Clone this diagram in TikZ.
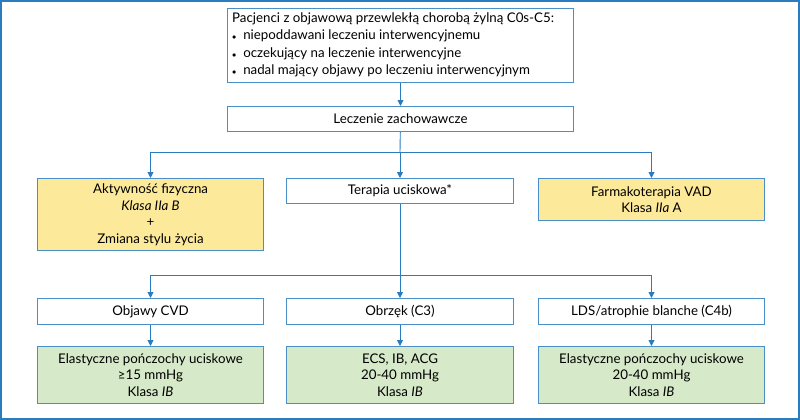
\documentclass[tikz,border=0pt]{standalone}
\usepackage{fontspec}
\setmainfont{Lato}
\usetikzlibrary{arrows.meta}
\definecolor{bl}{HTML}{2B7BBF}
\definecolor{bx}{HTML}{4A8FC8}
\definecolor{ye}{HTML}{FDE99A}
\definecolor{gr}{HTML}{D6E9C8}
\begin{document}
\begin{tikzpicture}[x=1pt,y=-1pt,
 box/.style={draw=bx,line width=1pt,inner sep=0pt,align=center,font=\fontsize{13.3}{16.5}\selectfont},
 arr/.style={draw=bl,line width=0.9pt,-{Triangle[length=6pt,width=6pt]}},
 ln/.style={draw=bl,line width=0.9pt}]
\draw[bl,line width=1.2pt] (1,1) rectangle (799,419);
\useasboundingbox (0,0) rectangle (800,420);
\newcommand\bx[6]{\node[box,fill=#6,minimum width=#3-#2,minimum height=#5-#4,anchor=north west] (#1) at (#2,#4) {};}
\bx{top}{227}{573}{8}{82}{white}
\node[anchor=west,align=left,inner sep=0pt,font=\fontsize{13.3}{17.5}\selectfont] at (232,45) {Pacjenci z objawową przewlekłą chorobą żylną C0s-C5:\\
{\fontsize{8}{8}\selectfont$\bullet$}\ \ niepoddawani leczeniu interwencyjnemu\\
{\fontsize{8}{8}\selectfont$\bullet$}\ \ oczekujący na leczenie interwencyjne\\
{\fontsize{8}{8}\selectfont$\bullet$}\ \ nadal mający objawy po leczeniu interwencyjnym};
\bx{lz}{227}{573}{106}{131}{white}
\node[box,draw=none] at (lz) {Leczenie zachowawcze};
\bx{akt}{37}{263}{178}{250}{ye}
\node[box,draw=none] at (akt) {Aktywność fizyczna\\\textit{Klasa IIa B}\\+\\Zmiana stylu życia};
\bx{ter}{286}{513}{178}{203}{white}
\node[box,draw=none] at (ter) {Terapia uciskowa*};
\bx{far}{538}{764}{178}{220}{ye}
\node[box,draw=none] at (far) {Farmakoterapia VAD\\Klasa \textit{IIa} A};
\bx{o1}{37}{263}{298}{324}{white}
\node[box,draw=none] at (o1) {Objawy CVD};
\bx{o2}{286}{513}{298}{324}{white}
\node[box,draw=none] at (o2) {Obrzęk (C3)};
\bx{o3}{538}{764}{298}{324}{white}
\node[box,draw=none] at (o3) {LDS/atrophie blanche (C4b)};
\bx{g1}{37}{263}{346}{403}{gr}
\node[box,draw=none] at (g1) {Elastyczne pończochy uciskowe\\≥15 mmHg\\Klasa \textit{IB}};
\bx{g2}{286}{513}{346}{403}{gr}
\node[box,draw=none] at (g2) {ECS, IB, ACG\\20-40 mmHg\\Klasa \textit{IB}};
\bx{g3}{538}{764}{346}{403}{gr}
\node[box,draw=none] at (g3) {Elastyczne pończochy uciskowe\\20-40 mmHg\\Klasa \textit{IB}};
\coordinate (j1) at (400,152);
\coordinate (j2) at (400,275);
\draw[arr] (top) -- (lz);
\draw[ln] (lz) -- (j1);
\draw[arr] (j1) -- (ter);
\draw[arr] (j1) -| (akt);
\draw[arr] (j1) -| (far);
\draw[ln] (ter) -- (j2);
\draw[arr] (j2) -- (o2);
\draw[arr] (j2) -| (o1);
\draw[arr] (j2) -| (o3);
\draw[arr] (o1) -- (g1);
\draw[arr] (o2) -- (g2);
\draw[arr] (o3) -- (g3);
\end{tikzpicture}
\end{document}
